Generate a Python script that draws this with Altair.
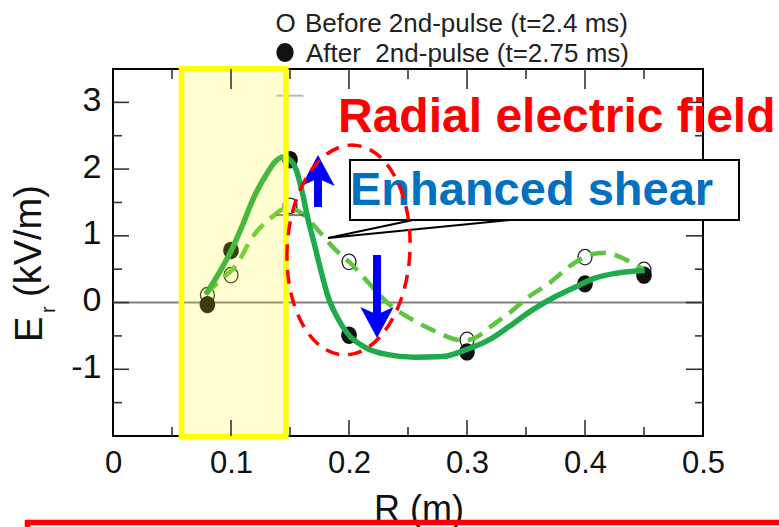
import altair as alt
import pandas as pd

# ---------------- data ----------------
R_MEAS = [0.08, 0.10, 0.15, 0.20, 0.30, 0.40, 0.45]
ER_BEFORE = [0.11, 0.41, 1.45, 0.61, -0.56, 0.68, 0.49]   # open circles, t=2.4 ms
ER_AFTER = [-0.03, 0.78, 2.14, -0.49, -0.74, 0.28, 0.41]  # filled circles, t=2.75 ms

# hand-drawn fit curves
FIT_AFTER_R = [0.0785, 0.0914, 0.100, 0.110, 0.120, 0.131, 0.138, 0.144, 0.151, 0.155,
               0.160, 0.165, 0.171, 0.1766, 0.182, 0.190, 0.199, 0.2135, 0.233, 0.256,
               0.279, 0.2987, 0.3186, 0.3356, 0.3555, 0.375, 0.395, 0.409, 0.4265, 0.4506]
FIT_AFTER_ER = [0.12, 0.49, 0.77, 1.17, 1.60, 1.95, 2.12, 2.18, 2.12, 2.00,
                1.68, 1.27, 0.85, 0.45, 0.10, -0.22, -0.47, -0.67, -0.78, -0.82,
                -0.81, -0.71, -0.56, -0.36, -0.11, 0.09, 0.26, 0.37, 0.44, 0.48]
FIT_BEFORE_R = [0.0785, 0.0914, 0.1056, 0.117, 0.134, 0.1468, 0.157, 0.174, 0.188, 0.2007,
                0.2163, 0.233, 0.256, 0.267, 0.279, 0.293, 0.300, 0.310, 0.3186, 0.3356,
                0.3526, 0.3697, 0.3867, 0.398, 0.4037, 0.418, 0.435, 0.449]
FIT_BEFORE_ER = [0.13, 0.34, 0.59, 0.95, 1.27, 1.41, 1.37, 1.08, 0.80, 0.60,
                 0.30, -0.01, -0.28, -0.38, -0.48, -0.56, -0.56, -0.50, -0.38, -0.16,
                 0.09, 0.29, 0.54, 0.67, 0.72, 0.745, 0.64, 0.50]

# error bar of the after-pulse point at R=0.15
ERR_R = [0.15, 0.15]
ERR_CAP = [3.10, 1.31]
ERR_COL = ["#9a9a9a", "#444444"]

# highlighted radial band
HL_R = [0.058, 0.1465]

X_LABELS = [0, 0.1, 0.2, 0.3, 0.4, 0.5]
Y_LABELS = [-1, 0, 1, 2, 3]
X_MAJOR = [0.1, 0.2, 0.3, 0.4]
X_MINOR = [0.05, 0.15, 0.25, 0.35, 0.45]
Y_MAJOR = [-1, 0, 1, 2, 3]
Y_MINOR = [-1.5, -0.5, 0.5, 1.5, 2.5]

# ---------------- layout ----------------
FONT = "Liberation Sans"
W, H = 590, 367
OX, OY = 113, 69


def px(v):
    return v - OX


def py(v):
    return v - OY


xs = alt.Scale(domain=[0, 0.5], nice=False, zero=False)
ys = alt.Scale(domain=[-2, 3.5], nice=False, zero=False)
x_axis = alt.Axis(values=X_LABELS, labelExpr="toString(datum.value)", ticks=False, tickSize=0,
                  domain=False, grid=False, title=None, labelFontSize=31, labelFont=FONT,
                  labelColor="#111111", labelPadding=12, labelFlush=False, labelOverlap=False)
y_axis = alt.Axis(values=Y_LABELS, labelExpr="toString(datum.value)", ticks=False, tickSize=0,
                  domain=False, grid=False, title=None, labelFontSize=34, labelFont=FONT,
                  labelColor="#111111", labelPadding=12, labelOffset=-2, labelOverlap=False)


def X(f):
    return alt.X(f"{f}:Q", scale=xs, axis=x_axis)


def Y(f):
    return alt.Y(f"{f}:Q", scale=ys, axis=y_axis)


one = pd.DataFrame({"k": [0]})
meas = pd.DataFrame({"R": R_MEAS, "before": ER_BEFORE, "after": ER_AFTER})
fit_a = pd.DataFrame({"R": FIT_AFTER_R, "Er": FIT_AFTER_ER})
fit_b = pd.DataFrame({"R": FIT_BEFORE_R, "Er": FIT_BEFORE_ER})
err = pd.DataFrame({"R": ERR_R, "cap": ERR_CAP, "c": ERR_COL})
hl = pd.DataFrame({"r1": [HL_R[0]], "r2": [HL_R[1]]})

ELL = "M-0.9,0 A0.9,1 0 1,0 0.9,0 A0.9,1 0 1,0 -0.9,0 Z"
BIG_ELL = "M-0.585,0 A0.585,1 0 1,0 0.585,0 A0.585,1 0 1,0 -0.585,0 Z"
HEAD = "M0,-1 L1,0.85 L0,0.4 L-1,0.85 Z"
TICK = "#333333"

layers = []

# zero line
layers.append(alt.Chart(pd.DataFrame({"z": [0]})).mark_rule(color="#808080", strokeWidth=2)
              .encode(y=Y("z")))

# markers
layers.append(alt.Chart(meas).mark_point(shape=ELL, size=240, filled=False, color="#222222",
                                         strokeWidth=1.3, opacity=1)
              .encode(x=X("R"), y=Y("before")))
layers.append(alt.Chart(meas).mark_point(shape=ELL, size=300, filled=True, color="#111111",
                                         opacity=1)
              .encode(x=X("R"), y=Y("after")))

# fit curves
layers.append(alt.Chart(fit_b).mark_line(interpolate="monotone", color="#5cc63f", strokeWidth=4.5,
                                         strokeDash=[16, 9])
              .encode(x=X("R"), y=Y("Er")))
layers.append(alt.Chart(fit_a).mark_line(interpolate="monotone", color="#1fab4c", strokeWidth=5.5)
              .encode(x=X("R"), y=Y("Er")))

# error bar caps
layers.append(alt.Chart(err).mark_tick(orient="horizontal", size=27, thickness=2)
              .encode(x=X("R"), y=Y("cap"), color=alt.Color("c:N", scale=None)))

# highlight band
layers.append(alt.Chart(hl).mark_rect(fill="#ffff00", fillOpacity=0.18, stroke="#ffff00",
                                      strokeWidth=5.5)
              .encode(x=X("r1"), x2="r2", y=alt.value(-0.3), y2=alt.value(H + 0.5)))


# inward ticks
def vticks(vals, y0, y1):
    return (alt.Chart(pd.DataFrame({"t": vals})).mark_rule(color=TICK, strokeWidth=1.6)
            .encode(x=X("t"), y=alt.value(y0), y2=alt.value(y1)))


def hticks(vals, x0, x1):
    return (alt.Chart(pd.DataFrame({"t": vals})).mark_rule(color=TICK, strokeWidth=1.6)
            .encode(y=Y("t"), x=alt.value(x0), x2=alt.value(x1)))


layers += [vticks(X_MAJOR, H, H - 16), vticks(X_MINOR, H, H - 9),
           vticks(X_MAJOR, 0, 20), vticks(X_MINOR, 0, 10),
           hticks(Y_MAJOR, 0, 16), hticks(Y_MINOR, 0, 9),
           hticks(Y_MAJOR, W, W - 17), hticks(Y_MINOR, W, W - 8)]


def txt(s, x, y, size, color="#111111", weight="normal", angle=0):
    return (alt.Chart(one).mark_text(text=s, fontSize=size, font=FONT, fontWeight=weight,
                                     color=color, align="left", baseline="alphabetic", angle=angle)
            .encode(x=alt.value(px(x)), y=alt.value(py(y))))


# callout box
layers.append(alt.Chart(one).mark_rect(fill="white", stroke="black", strokeWidth=2)
              .encode(x=alt.value(px(350)), x2=alt.value(px(739)),
                      y=alt.value(py(160)), y2=alt.value(py(220))))
layers.append(txt("Enhanced shear", 350, 205, 47, color="#0070c0", weight="bold"))
for (x2, y2) in [(413, 220), (510, 220)]:
    layers.append(alt.Chart(one).mark_rule(color="black", strokeWidth=1.8)
                  .encode(x=alt.value(px(328)), y=alt.value(py(238)),
                          x2=alt.value(px(x2)), y2=alt.value(py(y2))))

# blue arrows
layers.append(alt.Chart(one).mark_rule(color="#0000ff", strokeWidth=8)
              .encode(x=alt.value(px(318)), y=alt.value(py(176)), y2=alt.value(py(207))))
layers.append(alt.Chart(one).mark_point(shape=HEAD, size=1115, filled=True, color="#0000ff", opacity=1)
              .encode(x=alt.value(px(318)), y=alt.value(py(171.7))))
layers.append(alt.Chart(one).mark_rule(color="#0000ff", strokeWidth=8)
              .encode(x=alt.value(px(377)), y=alt.value(py(255)), y2=alt.value(py(318))))
layers.append(alt.Chart(one).mark_point(shape=HEAD, size=1115, filled=True, color="#0000ff",
                                        opacity=1, angle=180)
              .encode(x=alt.value(px(377)), y=alt.value(py(321.3))))

# red dashed ellipse
layers.append(alt.Chart(one).mark_point(shape=BIG_ELL, size=44100, filled=False, color="#ff0000",
                                        strokeWidth=3.5, strokeDash=[14, 9], opacity=1, angle=3)
              .encode(x=alt.value(px(348.5)), y=alt.value(py(250))))

# titles / legend text
layers.append(txt("Radial electric field", 338, 132, 48, color="#ff0000", weight="bold"))
layers.append(txt("O", 275.5, 32, 26, color="#222222"))
layers.append(txt("Before 2nd-pulse (t=2.4 ms)", 305, 32, 26, color="#222222"))
layers.append(alt.Chart(one).mark_point(shape=ELL, size=361, filled=True, color="#111111", opacity=1)
              .encode(x=alt.value(px(285)), y=alt.value(py(52.5))))
layers.append(txt("After\u00a0 2nd-pulse (t=2.75 ms)", 306, 62, 26, color="#222222"))

# axis titles
layers.append(txt("E", 42, 342, 38, angle=270))
layers.append(txt("r", 55, 313, 20, angle=270))
layers.append(txt("(kV/m)", 41, 297, 38, angle=270))
layers.append(txt("R (m)", 374, 521, 36))

# red frame at the bottom
layers.append(alt.Chart(one).mark_rect(fillOpacity=0, stroke="#ff0000", strokeWidth=5.5)
              .encode(x=alt.value(px(27.5)), x2=alt.value(px(820)),
                      y=alt.value(py(522.5)), y2=alt.value(py(600))))

chart = (alt.layer(*layers)
         .properties(width=W, height=H, background="white",
                     autosize=alt.AutoSizeParams(type="none"),
                     padding={"left": OX, "top": OY, "right": 779 - OX - W, "bottom": 527 - OY - H})
         .configure_view(stroke="black", strokeWidth=2))

chart.save("out.html", embed_options={"renderer": "svg", "actions": False})
